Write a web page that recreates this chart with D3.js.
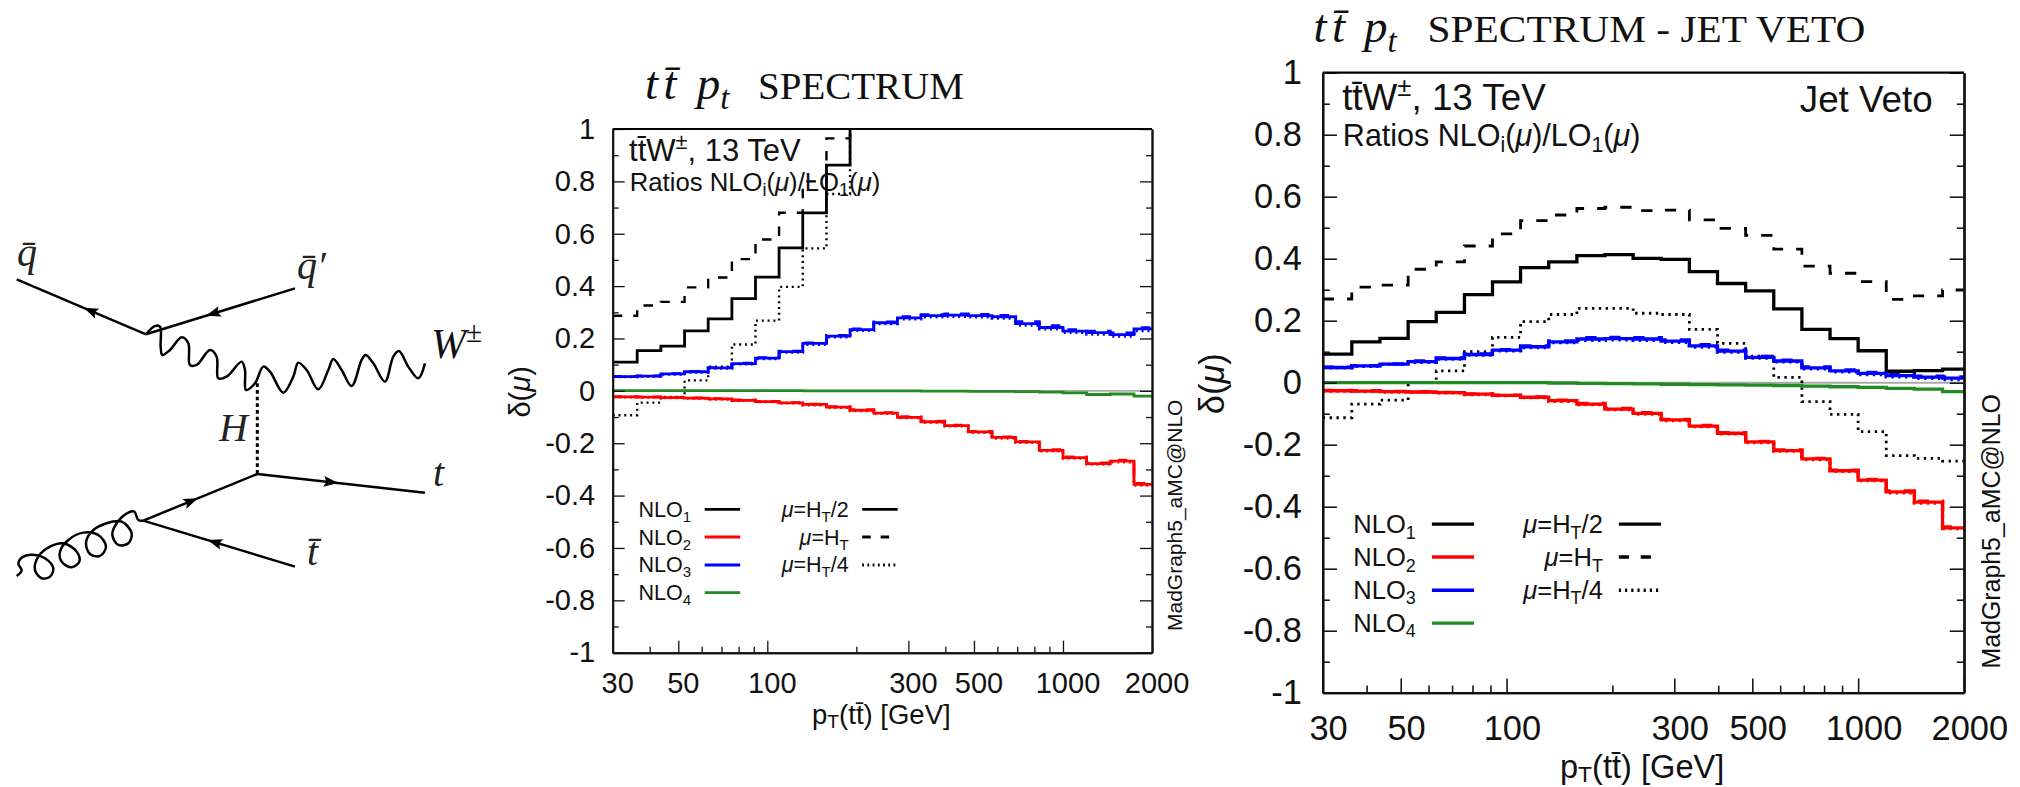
<!DOCTYPE html>
<html>
<head>
<meta charset="utf-8">
<script src="https://cdn.jsdelivr.net/npm/d3@7"></script>
<style>
  body { margin: 0; background: #fff; }
  svg { display: block; }
  text { font-family: "Liberation Sans", Arial, sans-serif; fill: #111; }
  .serif { font-family: "Liberation Serif", serif; }
</style>
</head>
<body>
<div id="chart"></div>
<script>
// bin edges of the histograms, GeV (same for both panels)
const binEdges = [30, 36.3, 43.65, 52.5, 63.1, 75.9, 91.2, 109.6, 131.8, 158.5, 190.5, 229.1,
    275.4, 331.1, 398.1, 478.6, 575.4, 691.8, 831.8, 1000, 1202, 1445, 1738, 2000];

const xMajor = [30, 50, 100, 300, 500, 1000, 2000];
const xMinor = [40, 60, 70, 80, 90, 200, 400, 600, 700, 800, 900];
const yMajor = [-1, -0.8, -0.6, -0.4, -0.2, 0, 0.2, 0.4, 0.6, 0.8, 1];
const yMinor = [-0.9, -0.7, -0.5, -0.3, -0.1, 0.1, 0.3, 0.5, 0.7, 0.9];

// left panel, inclusive spectrum. black curves leave the frame so they stop early
const incNlo1Half = [0.11, 0.154, 0.171, 0.229, 0.275, 0.352, 0.434, 0.546, 0.68, 0.862, 1.2];
const incNlo1Ht = [0.287, 0.326, 0.34, 0.395, 0.433, 0.503, 0.578, 0.68, 0.8, 0.964, 1.3];
const incNlo1Quarter = [-0.093, -0.045, -0.023, 0.04, 0.092, 0.177, 0.268, 0.397, 0.544, 0.752, 1.1];
const incNlo2Half = [-0.023, -0.024, -0.026, -0.028, -0.031, -0.036, -0.041, -0.046, -0.052, -0.062, -0.074, -0.085,
    -0.101, -0.118, -0.133, -0.157, -0.178, -0.195, -0.227, -0.255, -0.278, -0.268, -0.357];
const incNlo2Ht = [-0.022, -0.023, -0.025, -0.027, -0.03, -0.035, -0.04, -0.045, -0.051, -0.06, -0.072, -0.083,
    -0.099, -0.116, -0.131, -0.155, -0.176, -0.193, -0.225, -0.252, -0.275, -0.265, -0.353];
const incNlo2Quarter = [-0.024, -0.025, -0.027, -0.029, -0.032, -0.037, -0.042, -0.047, -0.054, -0.064, -0.076, -0.087,
    -0.103, -0.12, -0.135, -0.159, -0.181, -0.198, -0.23, -0.258, -0.281, -0.272, -0.361];
const incNlo3Half = [0.054, 0.056, 0.065, 0.073, 0.088, 0.104, 0.125, 0.15, 0.181, 0.209, 0.234, 0.26,
    0.279, 0.287, 0.289, 0.287, 0.283, 0.257, 0.242, 0.228, 0.222, 0.215, 0.237];
const incNlo3Ht = [0.055, 0.057, 0.066, 0.074, 0.089, 0.106, 0.127, 0.152, 0.183, 0.212, 0.237, 0.263,
    0.283, 0.291, 0.294, 0.292, 0.288, 0.264, 0.249, 0.234, 0.228, 0.221, 0.241];
const incNlo3Quarter = [0.053, 0.055, 0.063, 0.071, 0.086, 0.102, 0.122, 0.147, 0.177, 0.205, 0.23, 0.256,
    0.274, 0.282, 0.284, 0.282, 0.277, 0.25, 0.236, 0.222, 0.216, 0.208, 0.229];
const incNlo4Half = [0.001, 0.001, 0.001, 0.001, 0.001, 0.001, 0.001, 0.001, 0, 0, 0, 0,
    0, -0.001, -0.001, -0.002, -0.002, -0.003, -0.005, -0.008, -0.014, -0.012, -0.02];

// right panel, with jet veto
const vetoNlo1Half = [0.092, 0.132, 0.143, 0.197, 0.227, 0.284, 0.325, 0.371, 0.39, 0.41, 0.413, 0.401,
    0.398, 0.358, 0.32, 0.296, 0.238, 0.172, 0.142, 0.103, 0.037, 0.039, 0.044];
const vetoNlo1Ht = [0.27, 0.308, 0.315, 0.366, 0.39, 0.441, 0.48, 0.523, 0.541, 0.562, 0.566, 0.555,
    0.557, 0.525, 0.498, 0.475, 0.431, 0.376, 0.353, 0.326, 0.269, 0.28, 0.299];
const vetoNlo1Quarter = [-0.113, -0.069, -0.056, 0, 0.038, 0.1, 0.146, 0.197, 0.22, 0.24, 0.24, 0.224,
    0.22, 0.172, 0.127, 0.086, 0.017, -0.061, -0.102, -0.158, -0.235, -0.244, -0.253];
const vetoNlo2Half = [-0.026, -0.027, -0.029, -0.03, -0.032, -0.037, -0.041, -0.047, -0.058, -0.069, -0.085, -0.099,
    -0.12, -0.14, -0.163, -0.191, -0.219, -0.246, -0.284, -0.314, -0.352, -0.385, -0.468];
const vetoNlo2Ht = [-0.025, -0.026, -0.028, -0.029, -0.031, -0.036, -0.04, -0.046, -0.056, -0.067, -0.083, -0.097,
    -0.118, -0.138, -0.161, -0.189, -0.217, -0.244, -0.282, -0.312, -0.349, -0.382, -0.465];
const vetoNlo2Quarter = [-0.027, -0.028, -0.03, -0.031, -0.033, -0.038, -0.042, -0.048, -0.06, -0.071, -0.087, -0.101,
    -0.122, -0.142, -0.165, -0.193, -0.221, -0.248, -0.286, -0.316, -0.355, -0.388, -0.471];
const vetoNlo3Half = [0.049, 0.054, 0.06, 0.068, 0.078, 0.091, 0.105, 0.116, 0.132, 0.141, 0.142, 0.141,
    0.134, 0.119, 0.102, 0.082, 0.07, 0.048, 0.038, 0.03, 0.023, 0.018, 0.015];
const vetoNlo3Ht = [0.05, 0.055, 0.061, 0.07, 0.08, 0.093, 0.107, 0.119, 0.135, 0.145, 0.146, 0.145,
    0.138, 0.123, 0.105, 0.085, 0.073, 0.051, 0.041, 0.033, 0.026, 0.021, 0.019];
const vetoNlo3Quarter = [0.048, 0.053, 0.059, 0.066, 0.076, 0.089, 0.103, 0.113, 0.129, 0.137, 0.138, 0.137,
    0.13, 0.115, 0.099, 0.079, 0.067, 0.045, 0.035, 0.026, 0.019, 0.014, 0.01];
const vetoNlo4Half = [0, 0, 0, 0, 0, 0, 0, 0, -0.001, -0.002, -0.003, -0.004,
    -0.005, -0.006, -0.007, -0.008, -0.009, -0.011, -0.013, -0.015, -0.018, -0.021, -0.029];

// feynman diagram, traced at 3x from the figure
const wBoson = [[438,463],[465,438],[480,440],[482,500],[487,525],[510,510],[545,472],[565,490],[570,555],[590,555],
    [630,510],[650,530],[655,595],[680,590],[725,545],[735,570],[738,630],[765,610],[790,560],[810,575],[850,638],
    [880,590],[895,548],[920,570],[955,628],[985,570],[1000,537],[1025,570],[1055,618],[1085,540],[1097,525],
    [1120,550],[1155,605],[1180,530],[1197,513],[1225,560],[1255,595],[1275,550]];
const gluon = [[50,1188],[65,1172],[55,1150],[70,1130],[105,1125],[135,1135],[160,1165],[150,1190],[125,1195],[105,1170],
    [115,1130],[150,1100],[190,1090],[230,1115],[238,1145],[215,1162],[185,1145],[180,1115],[205,1080],[250,1058],
    [295,1065],[318,1100],[300,1128],[270,1122],[258,1090],[275,1055],[320,1030],[365,1025],[395,1060],[385,1090],
    [355,1095],[337,1065],[350,1030],[385,998],[403,995],[415,1020],[430,1022]];
const fermions = [
    { from: [438,463], to: [50,298], at: 0.43 },
    { from: [885,325], to: [438,463], at: 0.55 },
    { from: [430,1022], to: [772,882], at: 0.42 },
    { from: [772,882], to: [1275,938], at: 0.44 },
    { from: [885,1160], to: [430,1022], at: 0.53 }
];
const diagramLabels = [
    { t: "q\u0304", x: 17, y: 266 },
    { t: "q\u0304\u2032", x: 297, y: 279 },
    { t: "H", x: 219, y: 441 },
    { t: "t", x: 433, y: 486 },
    { t: "t\u0304", x: 307, y: 565 }
];

const colorNlo = { nlo1: "#000", nlo2: "#ff0000", nlo3: "#0000ff", nlo4: "#228b22" };
const dashes = { half: null, ht: "9.5 11", quarter: "2 3.8" };

const panels = [
    {
        id: "inc", left: 612.7, top: 129, width: 539.3, height: 523.7, k: 1, lw: 2.8, jetVeto: false,
        curves: [
            ["nlo1", "half", incNlo1Half], ["nlo1", "ht", incNlo1Ht], ["nlo1", "quarter", incNlo1Quarter],
            ["nlo2", "ht", incNlo2Ht], ["nlo2", "quarter", incNlo2Quarter], ["nlo2", "half", incNlo2Half],
            ["nlo3", "ht", incNlo3Ht], ["nlo3", "quarter", incNlo3Quarter], ["nlo3", "half", incNlo3Half],
            ["nlo4", "half", incNlo4Half]
        ],
        title: { x: 645, y: 99, px: 696.7, subX: 758, subY: 99, sub: "SPECTRUM", subW: 206 }
    },
    {
        id: "veto", left: 1322.7, top: 72.7, width: 641.3, height: 620, k: 1.187, lw: 3.3, jetVeto: true,
        curves: [
            ["nlo1", "half", vetoNlo1Half], ["nlo1", "ht", vetoNlo1Ht], ["nlo1", "quarter", vetoNlo1Quarter],
            ["nlo2", "ht", vetoNlo2Ht], ["nlo2", "quarter", vetoNlo2Quarter], ["nlo2", "half", vetoNlo2Half],
            ["nlo3", "ht", vetoNlo3Ht], ["nlo3", "quarter", vetoNlo3Quarter], ["nlo3", "half", vetoNlo3Half],
            ["nlo4", "half", vetoNlo4Half]
        ],
        title: { x: 1313.5, y: 42, px: 1364, subX: 1427.5, subY: 42, sub: "SPECTRUM - JET VETO", subW: 438 }
    }
];

const svg = d3.select("#chart").append("svg")
    .attr("width", 2020)
    .attr("height", 787);

// write text made of parts: plain, italic, subscript, superscript
function richText(sel, parts) {
    let shift = 0;
    parts.forEach(p => {
        const span = sel.append("tspan").text(p.t);
        const target = p.sub ? (p.drop || 0.22) : p.sup ? -0.38 : 0;
        const base = parseFloat(sel.attr("font-size"));
        span.attr("dy", (target - shift) * base);
        if (p.sub || p.sup) span.attr("font-size", base * 0.7);
        if (p.it) span.attr("font-style", "italic");
        shift = target;
    });
    return sel;
}

const mu = [{ t: "\u03bc", it: true }];
const ttbarW = [{ t: "tt\u0304W" }, { t: "\u00b1", sup: true }, { t: ", 13 TeV" }];
const ratios = [{ t: "Ratios NLO" }, { t: "i", sub: true }, { t: "(" }, ...mu, { t: ")/LO" }, { t: "1", sub: true }, { t: "(" }, ...mu, { t: ")" }];
// small drop on the T here, the right panel title sits on the page edge
const xTitle = [{ t: "p" }, { t: "T", sub: true, drop: 0.14 }, { t: "(tt\u0304) [GeV]" }];
const yTitle = [{ t: "\u03b4(" }, ...mu, { t: ")" }];

const legendLeft = [["NLO", "1", "nlo1"], ["NLO", "2", "nlo2"], ["NLO", "3", "nlo3"], ["NLO", "4", "nlo4"]];
const legendRight = [
    { parts: [...mu, { t: "=H" }, { t: "T", sub: true }, { t: "/2" }], dash: "half" },
    { parts: [...mu, { t: "=H" }, { t: "T", sub: true }], dash: "ht" },
    { parts: [...mu, { t: "=H" }, { t: "T", sub: true }, { t: "/4" }], dash: "quarter" }
];

function drawPanel(p) {
    const k = p.k;
    const g = svg.append("g").attr("transform", `translate(${p.left},${p.top})`);

    const x = d3.scaleLog().domain([30, 2000]).range([0, p.width]);
    const y = d3.scaleLinear().domain([-1, 1]).range([p.height, 0]);

    g.append("clipPath").attr("id", `clip-${p.id}`)
        .append("rect").attr("width", p.width).attr("height", p.height);

    // zero line under the curves
    g.append("line")
        .attr("x1", 0).attr("x2", p.width)
        .attr("y1", y(0)).attr("y2", y(0))
        .attr("stroke", "#aaa").attr("stroke-width", 1.6 * k);

    const line = d3.line()
        .x(d => x(d[0]))
        .y(d => y(d[1]))
        .curve(d3.curveStepAfter);

    p.curves.forEach(([order, scale, values]) => {
        const pts = values.map((v, i) => [binEdges[i], v]);
        pts.push([binEdges[values.length], values[values.length - 1]]);
        g.append("path")
            .attr("clip-path", `url(#clip-${p.id})`)
            .attr("d", line(pts))
            .attr("fill", "none")
            .attr("stroke", colorNlo[order])
            .attr("stroke-width", order === "nlo1" && scale !== "half" ? p.lw * 0.85 : p.lw)
            .attr("stroke-dasharray", dashes[scale] ? dashes[scale].split(" ").map(d => d * k).join(" ") : null);
    });

    // axes
    const axisStyle = a => {
        a.selectAll("path.domain").attr("stroke", "#111").attr("stroke-width", 1.9 * k);
        a.selectAll("line").attr("stroke", "#111").attr("stroke-width", 1.3 * k);
        a.selectAll("text").attr("font-size", 29 * k).attr("font-family", "Liberation Sans").attr("fill", "#111");
    };
    const major = 12 * k, minor = 6 * k;

    g.append("g").call(d3.axisLeft(y).tickValues(yMajor).tickSize(-major).tickSizeOuter(0).tickPadding(17.5 * k).tickFormat(String))
        .call(axisStyle);
    g.append("g").call(d3.axisLeft(y).tickValues(yMinor).tickSize(-minor).tickSizeOuter(0).tickFormat(""))
        .call(axisStyle);
    g.append("g").attr("transform", `translate(${p.width},0)`)
        .call(d3.axisRight(y).tickValues(yMajor).tickSize(-major).tickSizeOuter(0).tickFormat(""))
        .call(axisStyle);
    g.append("g").attr("transform", `translate(${p.width},0)`)
        .call(d3.axisRight(y).tickValues(yMinor).tickSize(-minor).tickSizeOuter(0).tickFormat(""))
        .call(axisStyle);
    g.append("g").attr("transform", `translate(0,${p.height})`)
        .call(d3.axisBottom(x).tickValues(xMajor).tickSize(-major).tickSizeOuter(0).tickPadding(19.5 * k).tickFormat(String))
        .call(axisStyle)
        .selectAll("text").attr("dx", 4.5 * k);
    g.append("g").attr("transform", `translate(0,${p.height})`)
        .call(d3.axisBottom(x).tickValues(xMinor).tickSize(-minor).tickSizeOuter(0).tickFormat(""))
        .call(axisStyle);
    g.append("line")
        .attr("x1", 0).attr("x2", p.width)
        .attr("stroke", "#000").attr("stroke-width", 1.9 * k);

    // labels in the frame
    richText(g.append("text").attr("x", 16.4 * k).attr("y", 31.7 * k).attr("font-size", 31 * k), ttbarW);
    richText(g.append("text").attr("x", 17 * k).attr("y", 61.5 * k).attr("font-size", 25.7 * k), ratios);
    if (p.jetVeto) {
        g.append("text")
            .attr("x", 610).attr("y", 39)
            .attr("text-anchor", "end")
            .attr("font-size", 31 * k)
            .text("Jet Veto");
    }

    // legend
    const rowText = [388, 416, 443, 471];
    const rowLine = [380.3, 408, 436, 463.7];
    legendLeft.forEach((row, i) => {
        richText(g.append("text").attr("x", 25.8 * k).attr("y", rowText[i] * k).attr("font-size", 21.5 * k),
            [{ t: row[0] }, { t: row[1], sub: true }]);
        g.append("line")
            .attr("x1", 92 * k).attr("x2", 127.5 * k)
            .attr("y1", rowLine[i] * k).attr("y2", rowLine[i] * k)
            .attr("stroke", colorNlo[row[2]])
            .attr("stroke-width", p.lw);
    });
    legendRight.forEach((row, i) => {
        richText(g.append("text").attr("x", 236 * k).attr("y", rowText[i] * k).attr("font-size", 21.5 * k)
            .attr("text-anchor", "end"), row.parts);
        g.append("line")
            .attr("x1", 249.5 * k).attr("x2", 285 * k)
            .attr("y1", rowLine[i] * k).attr("y2", rowLine[i] * k)
            .attr("stroke", "#000")
            .attr("stroke-width", p.lw)
            .attr("stroke-dasharray", dashes[row.dash] ? dashes[row.dash].split(" ").map(d => d * k * 0.9).join(" ") : null);
    });

    // axis titles
    richText(g.append("text").attr("x", p.width / 2 - 1 * k).attr("y", 71.5 * k + p.height)
        .attr("text-anchor", "middle").attr("font-size", 27.5 * k), xTitle);
    richText(g.append("text").attr("text-anchor", "middle").attr("font-size", 29 * k)
        .attr("transform", `translate(${-83 * k},${p.height / 2 + 1}) rotate(-90)`), yTitle);
    g.append("text")
        .attr("transform", `translate(${p.width + 30 * k},${502 * k}) rotate(-90)`)
        .attr("font-size", 21 * k)
        .text("MadGraph5_aMC@NLO");

    // panel title
    const t = p.title;
    richText(svg.append("text").attr("class", "serif").attr("x", t.x).attr("y", t.y)
        .attr("font-size", 47).attr("letter-spacing", 5.5), [{ t: "tt\u0304", it: true }]);
    richText(svg.append("text").attr("class", "serif").attr("x", t.px).attr("y", t.y)
        .attr("font-size", 47), [{ t: "p", it: true }, { t: "t", it: true, sub: true }]);
    svg.append("text").attr("class", "serif")
        .attr("x", t.subX).attr("y", t.subY)
        .attr("font-size", 38)
        .attr("textLength", t.subW)
        .attr("lengthAdjust", "spacingAndGlyphs")
        .text(t.sub);
}

panels.forEach(drawPanel);

// feynman diagram
const diagram = svg.append("g").attr("transform", "translate(0,180) scale(0.3333)");
const curved = d3.line().curve(d3.curveCatmullRom.alpha(0.5));

diagram.append("path").attr("d", curved(wBoson)).attr("fill", "none").attr("stroke", "#000").attr("stroke-width", 7.5);
diagram.append("path").attr("d", curved(gluon)).attr("fill", "none").attr("stroke", "#000").attr("stroke-width", 7.5);
diagram.append("line")
    .attr("x1", 772).attr("y1", 610).attr("x2", 772).attr("y2", 882)
    .attr("stroke", "#000").attr("stroke-width", 9).attr("stroke-dasharray", "11 9");

fermions.forEach(f => {
    diagram.append("line")
        .attr("x1", f.from[0]).attr("y1", f.from[1])
        .attr("x2", f.to[0]).attr("y2", f.to[1])
        .attr("stroke", "#000").attr("stroke-width", 7.5);
    const cx = f.from[0] + (f.to[0] - f.from[0]) * f.at;
    const cy = f.from[1] + (f.to[1] - f.from[1]) * f.at;
    const angle = Math.atan2(f.to[1] - f.from[1], f.to[0] - f.from[0]) * 180 / Math.PI;
    diagram.append("path")
        .attr("d", "M22,0L-22,-16L-14,0L-22,16Z")
        .attr("transform", `translate(${cx},${cy}) rotate(${angle})`)
        .attr("fill", "#000");
});

diagramLabels.forEach(d => {
    svg.append("text").attr("class", "serif")
        .attr("x", d.x).attr("y", d.y)
        .attr("font-size", 40)
        .attr("font-style", "italic")
        .style("fill", "#222")
        .text(d.t);
});
richText(svg.append("text").attr("class", "serif").attr("x", 431).attr("y", 358).attr("font-size", 42), [
    { t: "W", it: true }, { t: "\u00b1", sup: true }
]);
</script>
</body>
</html>
